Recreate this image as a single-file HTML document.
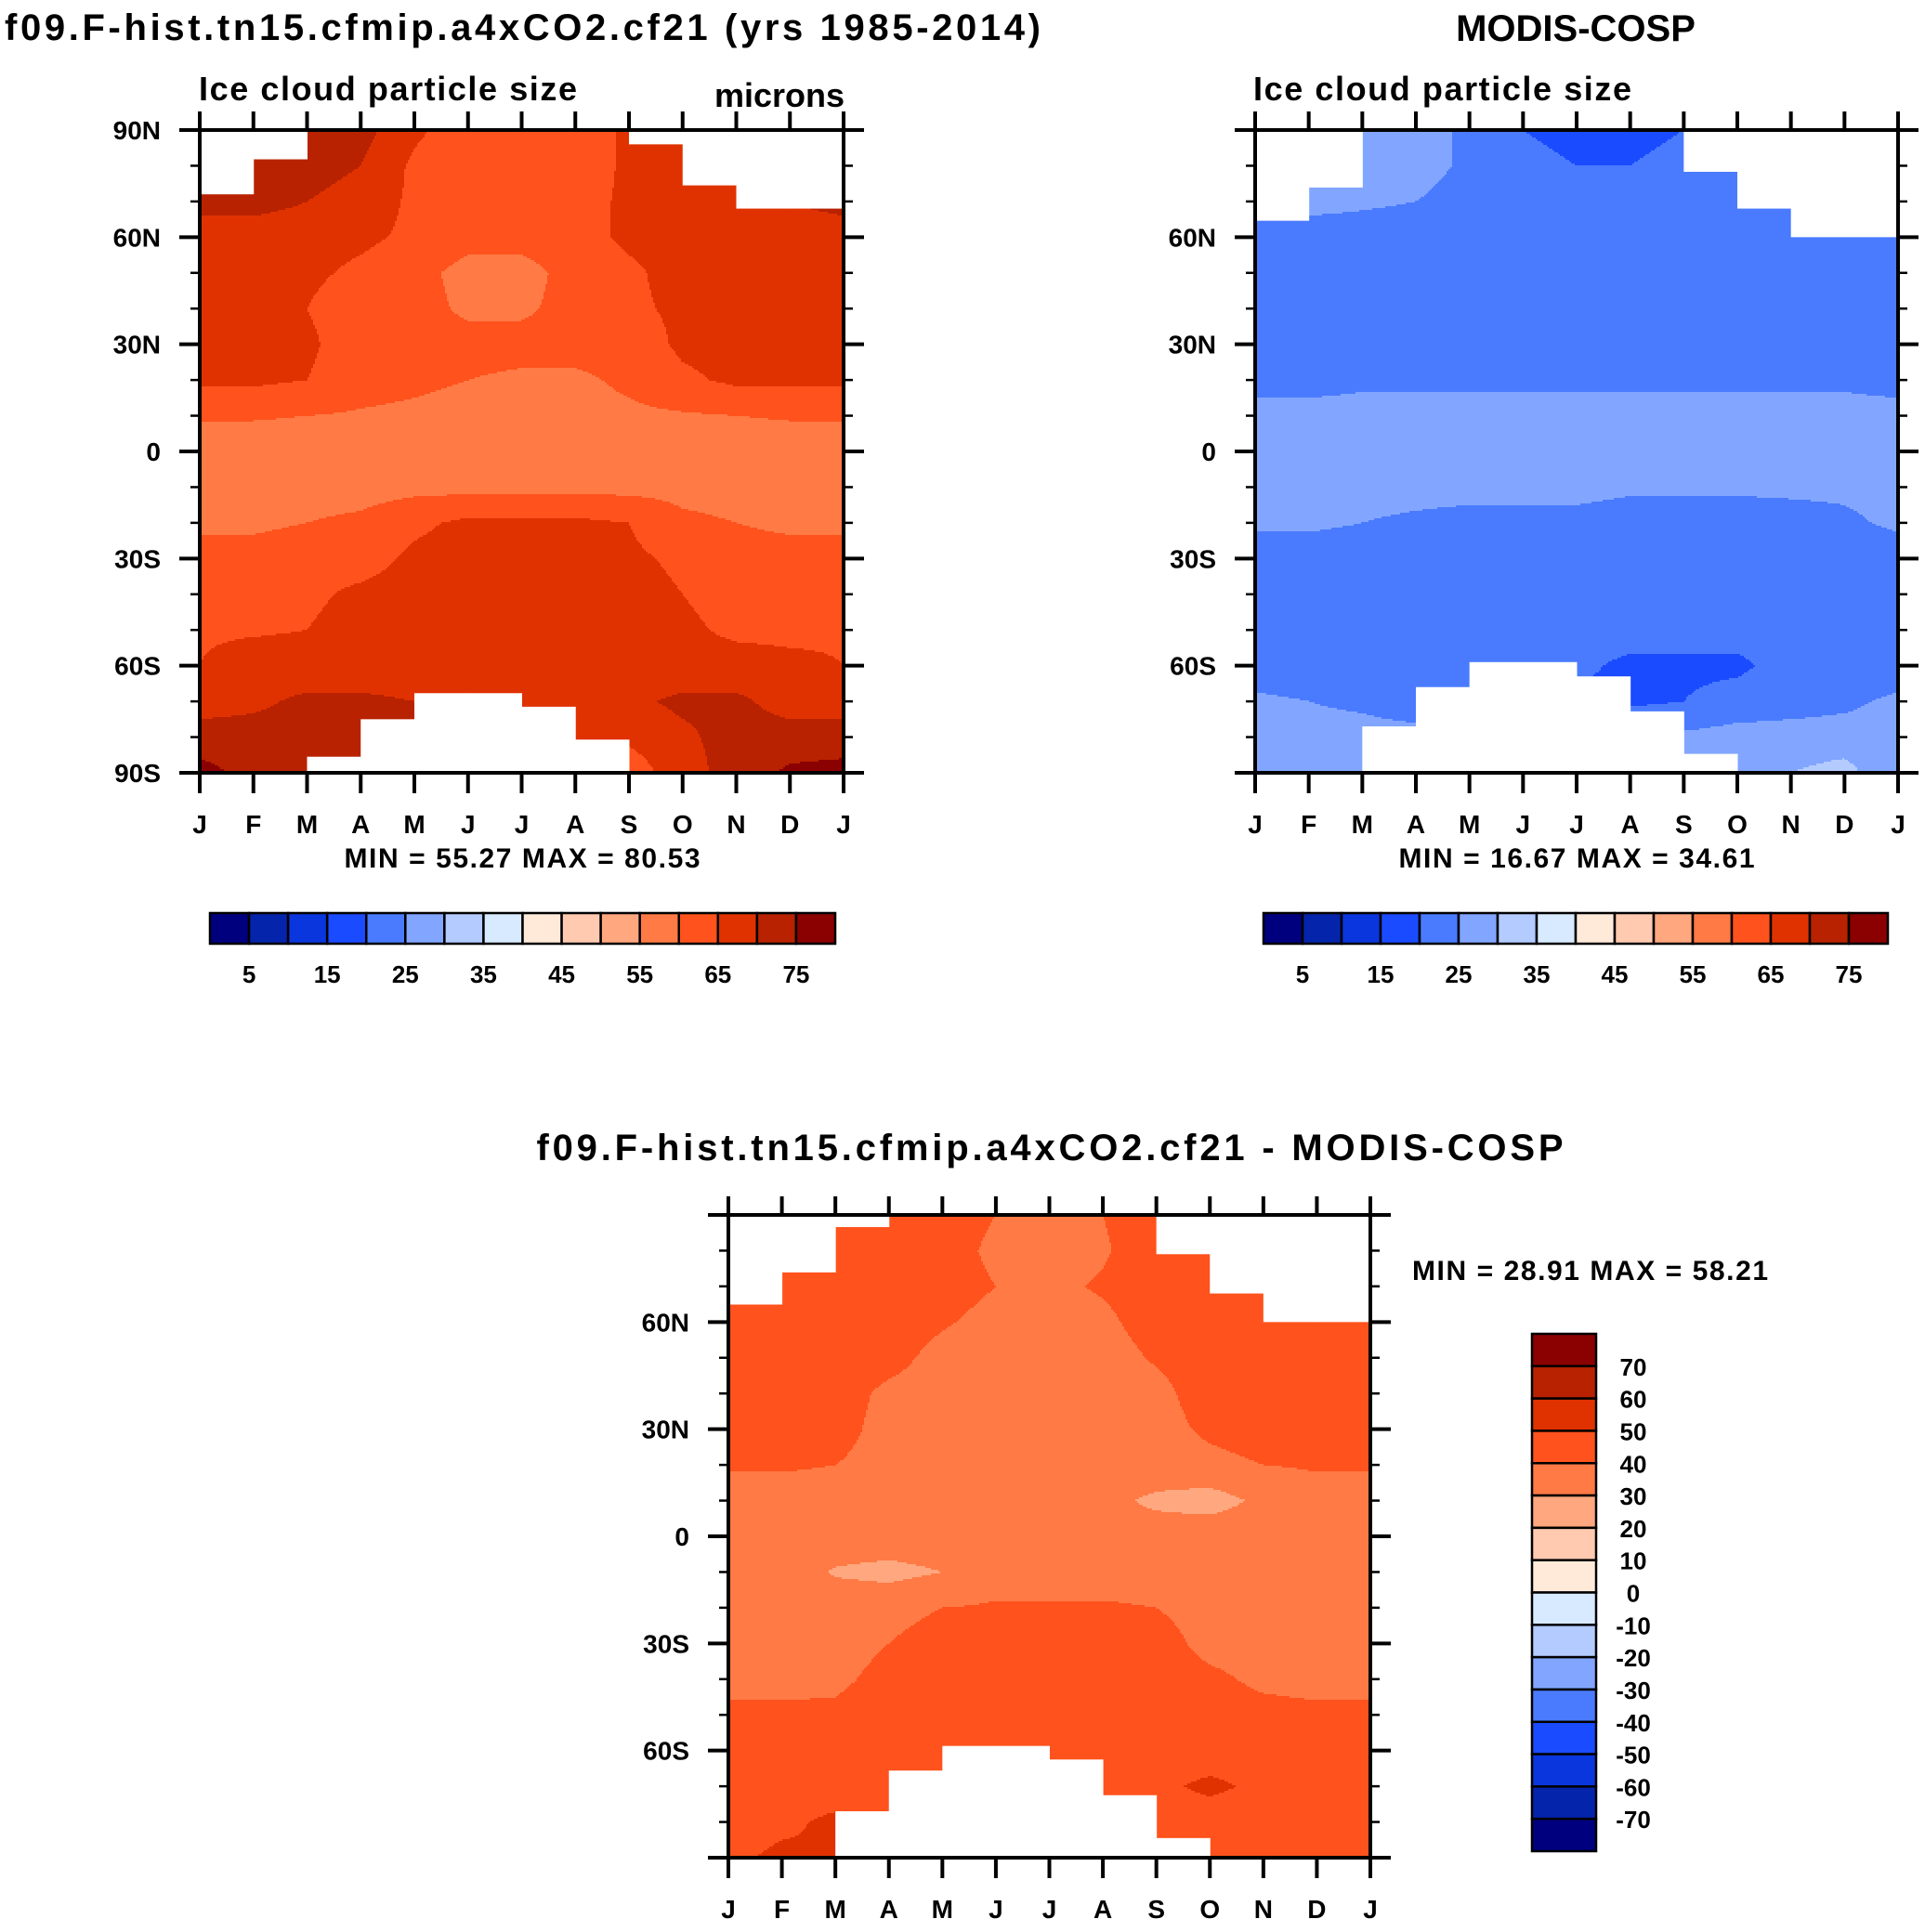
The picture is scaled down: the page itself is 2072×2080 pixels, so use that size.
<!DOCTYPE html>
<html><head><meta charset="utf-8"><style>
html,body{margin:0;padding:0;background:#fff;}
svg text{font-family:"Liberation Sans",sans-serif;font-weight:bold;fill:#000;}
</style></head><body>
<svg id="s" width="2072" height="2075" viewBox="0 0 2072 2075" xmlns="http://www.w3.org/2000/svg">
<text x="5" y="43" font-size="40" textLength="1115">f09.F-hist.tn15.cfmip.a4xCO2.cf21 (yrs 1985-2014)</text>
<text x="1696" y="44" font-size="40" text-anchor="middle">MODIS-COSP</text>
<text x="1130" y="1249" font-size="40" text-anchor="middle" textLength="1105">f09.F-hist.tn15.cfmip.a4xCO2.cf21 - MODIS-COSP</text>
<text x="214" y="108" font-size="36" textLength="407">Ice cloud particle size</text>
<text x="909" y="115" font-size="36" text-anchor="end">microns</text>
<text x="1349" y="108" font-size="36" textLength="407">Ice cloud particle size</text>
<text x="562" y="934" font-size="30" text-anchor="middle" textLength="383">MIN =  55.27 MAX =  80.53</text>
<text x="1697" y="934" font-size="30" text-anchor="middle" textLength="383">MIN =  16.67 MAX =  34.61</text>
<text x="1520" y="1378" font-size="30" textLength="383">MIN =  28.91 MAX =  58.21</text>
<g id="layers"></g>
</svg>
<script>
// ---- data ----
const months = ['J','F','M','A','M','J','J','A','S','O','N','D','J'];
const lats = [90,80,70,60,50,40,30,20,10,0,-10,-20,-30,-40,-50,-60,-70,-80,-90];
const levelsAbs = [5,10,15,20,25,30,35,40,45,50,55,60,65,70,75];
const levelsDiff = [-70,-60,-50,-40,-30,-20,-10,0,10,20,30,40,50,60,70];
const colors = ['#00007f','#0524ac','#0a36de','#1b4bff','#4a7bff','#82a6ff','#b3cbff','#d8eaff','#ffeada','#ffcab0','#ffa77e','#ff7a45','#ff521c','#e03200','#b82200','#8b0000'];
const absTickLabels = ['5','15','25','35','45','55','65','75'];
const diffTickLabels = ['70','60','50','40','30','20','10','0','-10','-20','-30','-40','-50','-60','-70'];
const latLabels = ['90N','60N','30N','0','30S','60S','90S'];

const modelGrid = [
[72,72,72,72,66,62,61,62,66,67,72,72,72],
[72,72,72,70,64,62,61,62,66,67,69,70,72],
[72,72,70,68,64,62,62,63,66,67,68,70,72],
[67,67,67,66,64,62,62,63,66,67,67,67,67],
[67,67,66,64,62,58,58,62,64,67,67,67,67],
[67,67,65,62,62,59,59,62,64,66,67,67,67],
[67,67,66,62,62,62,62,62,62,66,67,67,67],
[66,66,65,62,61,60,59,59,61,64,66,66,66],
[60.5,60.5,60,59.5,59,58,58,58,59,59.5,60,60.5,60.5],
[57,57,57,57,57,57,57,57,57,57,57,57,57],
[58,58,58,58,58.5,58.5,58.5,58.5,58.5,58.5,58,58,58],
[59,59,60,61,64,66,66,66,65,61,60,59,59],
[62,62,63,63,66,67,67,67,66,64,62,62,62],
[63,63,64,66,67,67,67,67,67,65,63,63,63],
[64.5,64.5,65,67,67,67,67,67,67,66,64,64,64.5],
[65,67,67,67,67,67,67,67,67,67,67,66,65],
[68,69,71,71,70,68,67,67,69,71,71,68,68],
[72,72,72,72,71,70,68,67,66,69,72,72,72],
[77,73,72,72,71,70,68,67,62,68,72,76,77]];
const modelMaskN = [72,81.8,90,90,90,90,90,90,86,74.5,68,68];
const modelMaskS = [-90,-90,-85.5,-75,-67.7,-67.7,-71.5,-80.7,-90,-90,-90,-90];

const obsGrid = [
[27,27,27,27,24,20,18,18,20,22,22,22,27],
[27,27,27,27,24,22,20,20,22,22,22,22,27],
[27,27,26,25,23,23,22,22,22,22,22,22,27],
[22,22,22,22,22,22,22,22,22,22,22,22,22],
[22,22,22,22,22,22,22,22,22,22,22,22,22],
[22,22,22,22,22,22,22,22,22,22,22,22,22],
[22,22,22,22,22,22,22,22,22,22,22,22,22],
[23,23,24,24,24,24,24,24,24,24,24,24,23],
[27,27,27,27,27,27,27,27,27,27,27,27,27],
[27,27,27,27,27,27,27,27,27,27,27,27,27],
[27,27,27,27,27,27,27,26,26,26,26,26,27],
[26,26,25,24,23,23,23,22,22,22,23,24,26],
[22,22,22,22,22,22,22,22,22,22,22,22,22],
[22,22,22,22,22,22,22,22,22,22,22,22,22],
[22,22,22,22,22,22,22,22,22,22,22,22,22],
[22,22,22,22,22,22,21,19,19,19,22,22,22],
[26,25,24,22,22,20,19,19,20,22,23,24,26],
[27,27,27,27,27,27,26,26,26,27,27,27,27],
[25,27,27,27,27,27,27,27,27,28,30,32,25]];
const obsMaskN = [64.6,73.9,90,90,90,90,90,90,78.3,68,60,60];
const obsMaskS = [-90,-90,-77,-66,-59,-59,-63,-72.8,-84.7,-90,-90,-90];

const diffGrid = [
[45,45,45,45,45,40,36,40,45,45,45,45,45],
[45,45,45,41,44,38,36,39,45,45,45,45,45],
[45,45,45,45,44,40,38,41,45,45,45,45,45],
[45,45,45,45,41,37,36,38,44,45,45,45,45],
[45,45,45,43,37,36,36,36,41,45,45,45,45],
[45,45,44,38,36,36,36,36,37,45,45,45,45],
[45,45,43,37,36,36,36,36,36,42,45,45,45],
[41,41,40,37,36,36,36,36,36,37,40,41,41],
[36,36,36,36,36,36,36,33,28,26,32,36,36],
[36,36,36,36,36,34,32,33,35,36,36,36,36],
[36,36,29,27,30,36,36,36,36,36,36,36,36],
[36,36,36,37,40,41,41,41,40,36,36,36,36],
[36,36,36,40,44,45,45,45,44,37,36,36,36],
[37,37,38,43,45,45,45,45,45,42,38,37,37],
[42,42,42,45,45,45,45,45,45,45,43,42,42],
[45,45,45,45,45,45,45,45,45,45,45,45,45],
[45,45,45,48,45,45,45,45,48,52,48,45,45],
[45,48,52,45,45,45,45,45,45,45,45,45,45],
[48,52,50,45,45,45,45,45,45,45,45,45,48]];
const diffMaskN = [64.9,73.9,86.6,90,90,90,90,90,79,68,60,60];
const diffMaskS = [-90,-90,-77,-65.6,-58.7,-58.7,-62.5,-72.5,-84.5,-90,-90,-90];

const NS='http://www.w3.org/2000/svg';
const root=document.getElementById('layers');
function mk(tag,attrs,parent){const e=document.createElementNS(NS,tag);for(const k in attrs)e.setAttribute(k,attrs[k]);(parent||root).appendChild(e);return e;}
function colorFor(v,levels){let i=0;while(i<levels.length&&v>=levels[i])i++;return colors[i];}
function sample(grid,m,lat){
  const r=(90-lat)/10, c=m;
  const r0=Math.max(0,Math.min(17,Math.floor(r))), c0=Math.max(0,Math.min(11,Math.floor(c)));
  const fr=r-r0, fc=c-c0;
  const a=grid[r0][c0],b=grid[r0][c0+1],d=grid[r0+1][c0],e=grid[r0+1][c0+1];
  return a*(1-fr)*(1-fc)+b*(1-fr)*fc+d*fr*(1-fc)+e*fr*fc;
}
function panel(name,x0,y0,w,h,grid,maskN,maskS,levels,showTop90){
  const g=mk('g',{});
  
  
  const xs=m=>x0+m/12*w, ys=lat=>y0+(90-lat)/180*h;
  const step=2;
  for(let py=0;py<h;py+=step){
    const lat=90-Math.min(h,(py+step/2))/h*180;
    let runStart=0,runCol=null;
    const flush=(end)=>{
      if(runCol===null)return;
      const r=mk('rect',{x:x0+runStart,y:y0+py,width:end-runStart+0.6,height:Math.min(step,h-py)+0.6,fill:runCol},g);
      
      
    };
    for(let px=0;px<w;px+=step){
      const m=Math.min(w,(px+step/2))/w*12;
      const col=colorFor(sample(grid,m,lat),levels);
      if(col!==runCol){flush(px);runStart=px;runCol=col;}
    }
    flush(w);
  }
  for(let i=0;i<12;i++){
    if(maskN[i]<90){const r=mk('rect',{x:xs(i),y:y0-1,width:w/12+0.5,height:ys(maskN[i])-y0+1,fill:'#fff'},g);
      
      }
    if(maskS[i]>-90){const r=mk('rect',{x:xs(i),y:ys(maskS[i]),width:w/12+0.5,height:y0+h-ys(maskS[i])+1,fill:'#fff'},g);
      
      }
  }
  mk('rect',{x:x0,y:y0,width:w,height:h,fill:'none',stroke:'#000','stroke-width':4},g);
  for(let i=0;i<13;i++){
    const x=xs(i);
    mk('line',{x1:x,y1:y0-20,x2:x,y2:y0,stroke:'#000','stroke-width':4},g);
    mk('line',{x1:x,y1:y0+h,x2:x,y2:y0+h+22,stroke:'#000','stroke-width':4},g);
    const t=mk('text',{x:x,y:y0+h+65,'font-size':28,'text-anchor':'middle'},g);t.textContent=months[i];
    
    
  }
  for(let lat=90;lat>=-90;lat-=10){
    const y=ys(lat), major=lat%30===0, L=major?22:10;
    mk('line',{x1:x0-L,y1:y,x2:x0,y2:y,stroke:'#000','stroke-width':major?4:2.5},g);
    mk('line',{x1:x0+w,y1:y,x2:x0+w+L,y2:y,stroke:'#000','stroke-width':major?4:2.5},g);
    if(major&&(showTop90||Math.abs(lat)<90)){
      const t=mk('text',{x:x0-42,y:y+10,'font-size':28,'text-anchor':'end'},g);
      t.textContent=latLabels[(90-lat)/30];
      
      
    }
  }
}
function hbar(name,x0,y0,w,h){
  const g=mk('g',{});
  
  
  const bw=w/16;
  colors.forEach((c,i)=>{const r=mk('rect',{x:x0+i*bw,y:y0,width:bw,height:h,fill:c,stroke:'#000','stroke-width':2.5},g);
    
    });
  absTickLabels.forEach((l,k)=>{const t=mk('text',{x:x0+(2*k+1)*bw,y:y0+h+42,'font-size':26,'text-anchor':'middle'},g);t.textContent=l;
    
    });
}
function vbar(name,x0,y0,w,h){
  const g=mk('g',{});
  
  
  const bh=h/16;
  colors.slice().reverse().forEach((c,i)=>{const r=mk('rect',{x:x0,y:y0+i*bh,width:w,height:bh,fill:c,stroke:'#000','stroke-width':2.5},g);
    
    });
  diffTickLabels.forEach((l,k)=>{const t=mk('text',{x:x0+w+40,y:y0+(k+1)*bh+10,'font-size':26,'text-anchor':'middle'},g);t.textContent=l;
    
    });
}
panel('model-panel',215,140,693,692,modelGrid,modelMaskN,modelMaskS,levelsAbs,true);
panel('obs-panel',1351,140,692,692,obsGrid,obsMaskN,obsMaskS,levelsAbs,false);
panel('diff-panel',784,1308,691,692,diffGrid,diffMaskN,diffMaskS,levelsDiff,false);
hbar('model-colorbar',226,983,673,33);
hbar('obs-colorbar',1360,983,672,33);
vbar('diff-colorbar',1649,1436,69,557);
</script>
</body></html>
